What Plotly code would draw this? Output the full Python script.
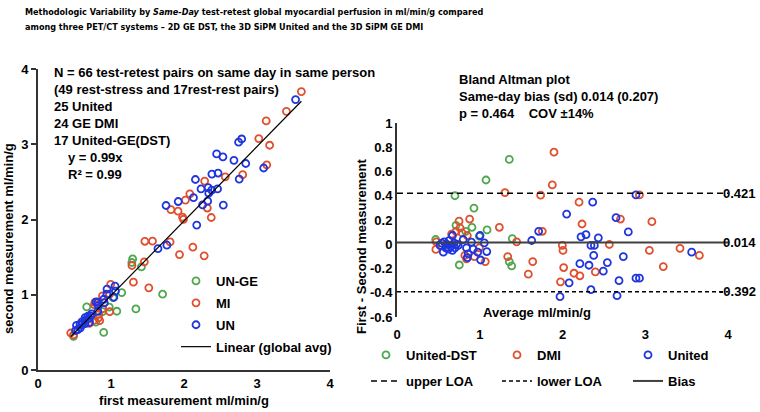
import plotly.graph_objects as go

# ---- data (average, first - second) ----
green_avg = [0.467, 0.70, 0.713, 0.753, 0.83, 0.906, 0.93, 0.995, 1.076, 1.088, 1.357, 1.357, 1.386, 1.393]
green_diff = [0.039, 0.40, 0.156, -0.171, 0.107, 0.14, 0.298, 0.066, 0.53, 0.118, 0.70, -0.143, -0.179, 0.047]

red_avg = [0.47, 0.475, 0.66, 0.713, 0.75, 0.761, 0.785, 0.82, 0.84, 0.85, 0.878, 0.934, 0.995, 1.067,
           1.237, 1.305, 1.338, 1.446, 1.587, 1.64, 1.736, 1.756, 1.877, 1.897, 1.976, 1.998, 2.006, 2.014,
           2.139, 2.20, 2.21, 2.236, 2.397, 2.566, 2.70, 2.93, 3.05, 3.08, 3.218, 3.42, 3.654]
red_diff = [-0.043, 0.02, 0.083, 0.107, 0.19, 0.135, 0.094, -0.092, -0.12, 0.072, 0.208, -0.102, -0.029, -0.143,
            0.14, 0.426, -0.102, 0.02, -0.247, -0.143, 0.405, 0.107, 0.489, 0.759, -0.31, -0.01, -0.051, -0.192,
            -0.239, 0.347, -0.26, 0.167, -0.228, -0.002, 0.208, 0.407, -0.051, 0.186, -0.184, -0.034, -0.092]

blue_avg = [0.52, 0.54, 0.56, 0.57, 0.59, 0.60, 0.62, 0.63, 0.65, 0.67, 0.67, 0.69, 0.70, 0.72, 0.74, 0.80,
            0.84, 0.85, 0.86, 0.90, 0.92, 0.975, 1.003, 1.011, 1.055, 1.085,
            1.628, 1.712, 1.97, 2.05, 2.08, 2.21, 2.224, 2.284, 2.32, 2.344, 2.344, 2.365, 2.377, 2.385, 2.433,
            2.493, 2.542, 2.647, 2.659, 2.683, 2.735, 2.795, 2.888, 2.888, 2.93, 3.561]
blue_diff = [-0.01, 0.01, -0.065, 0.02, -0.03, 0.0, -0.04, 0.03, -0.02, 0.072, -0.05, 0.01, -0.03, 0.0, -0.01, 0.039,
             -0.03, -0.11, -0.08, 0.017, -0.04, -0.065, 0.072, -0.13, 0.012, -0.06,
             0.031, 0.107, -0.432, 0.249, -0.318, -0.16, 0.061, 0.08, -0.173, -0.01, -0.375, 0.347, -0.092, -0.01, 0.053,
             -0.222, -0.151, 0.219, -0.424, -0.30, -0.102, 0.102, 0.407, -0.28, -0.28, -0.065]

slope = 0.99
bias = 0.014
upper_loa = 0.421
lower_loa = -0.392

left_ticks = [0, 1, 2, 3, 4]
ba_x_range = [0, 4]
ba_y_ticks = [1, 0.8, 0.6, 0.4, 0.2, 0, -0.2, -0.4, -0.6]
ba_y_labels = ["1", "0.8", "0.6", "0.4", "0.2", "0", "-0.2", "-0.4", "-0.6"]

GREEN = "#4FA84F"
RED = "#E0502F"
BLUE = "#1F35DD"
FONT = "Liberation Sans, Arial, sans-serif"
TITLE_FONT = "DejaVu Sans Condensed, Liberation Sans Narrow, sans-serif"

W, H = 760, 412


def first_second(avg, diff):
    first = [a + d / 2 for a, d in zip(avg, diff)]
    second = [a - d / 2 for a, d in zip(avg, diff)]
    return first, second


def px(x):
    return x / W


def py(y):
    return 1 - y / H


fig = go.Figure()

mk = dict(symbol="circle-open", size=7, line=dict(width=1.8))

# left scatter
series = [("UN-GE", "United-DST", GREEN, green_avg, green_diff),
          ("MI", "DMI", RED, red_avg, red_diff),
          ("UN", "United", BLUE, blue_avg, blue_diff)]
all_first = []
for i, (lname, rname, col, avg, diff) in enumerate(series):
    f, s = first_second(avg, diff)
    all_first += f
    fig.add_trace(go.Scatter(x=f, y=s, mode="markers", name=lname, xaxis="x", yaxis="y",
                             legend="legend", legendgroup="L%d" % i, marker=dict(color=col, **mk)))
lx = [min(all_first), max(all_first)]
fig.add_trace(go.Scatter(x=lx, y=[slope * v for v in lx], mode="lines", name="Linear (global avg)",
                         xaxis="x", yaxis="y", legend="legend", legendgroup="L9",
                         line=dict(color="black", width=1.2)))

# right Bland-Altman
for lname, rname, col, avg, diff in series:
    fig.add_trace(go.Scatter(x=avg, y=diff, mode="markers", name=rname, xaxis="x2", yaxis="y2",
                             legend="legend2", marker=dict(color=col, **mk)))
fig.add_trace(go.Scatter(x=ba_x_range, y=[upper_loa] * 2, mode="lines", name="upper LOA", xaxis="x2", yaxis="y2",
                         legend="legend3", line=dict(color="black", width=1.5, dash="6px,4px")))
fig.add_trace(go.Scatter(x=ba_x_range, y=[lower_loa] * 2, mode="lines", name="lower LOA", xaxis="x2", yaxis="y2",
                         legend="legend3", line=dict(color="black", width=1.5, dash="4px,3px")))
fig.add_trace(go.Scatter(x=ba_x_range, y=[bias] * 2, mode="lines", name="Bias", xaxis="x2", yaxis="y2",
                         legend="legend3", line=dict(color="#404040", width=2)))

bold = dict(family=FONT, size=13, color="black", weight="bold")
tfont = dict(family=TITLE_FONT, size=9, color="black", weight="bold")

annotations = [
    dict(text="Methodologic Variability by <i>Same-Day</i> test-retest global myocardial perfusion in ml/min/g compared",
         x=px(23), y=py(12), xref="paper", yref="paper", xanchor="left", yanchor="middle", showarrow=False,
         font=tfont),
    dict(text="among three PET/CT systems – 2D GE DST, the 3D SiPM United and the 3D SiPM GE DMI",
         x=px(23), y=py(27), xref="paper", yref="paper", xanchor="left", yanchor="middle", showarrow=False,
         font=tfont),
    dict(text="N = 66 test-retest pairs on same day in same person<br>(49 rest-stress and 17rest-rest pairs)"
              "<br>25 United<br>24 GE DMI<br>17 United-GE(DST)",
         x=px(52), y=py(63), xref="paper", yref="paper", xanchor="left", yanchor="top", align="left",
         showarrow=False, font=bold),
    dict(text="y = 0.99x<br>R² = 0.99", x=px(66), y=py(148), xref="paper", yref="paper",
         xanchor="left", yanchor="top", align="left", showarrow=False, font=bold),
    dict(text="Bland Altman plot<br>Same-day bias (sd) 0.014 (0.207)<br>p = 0.464    COV ±14%",
         x=px(457), y=py(70), xref="paper", yref="paper", xanchor="left", yanchor="top", align="left",
         showarrow=False, font=bold),
    dict(text="0.421", x=px(758), y=upper_loa, xref="paper", yref="y2", xanchor="right", yanchor="middle",
         showarrow=False, font=bold),
    dict(text="0.014", x=px(758), y=bias, xref="paper", yref="y2", xanchor="right", yanchor="middle",
         showarrow=False, font=bold),
    dict(text="-0.392", x=px(758), y=lower_loa, xref="paper", yref="y2", xanchor="right", yanchor="middle",
         showarrow=False, font=bold),
    dict(text="Average ml/min/g", x=px(537), y=py(312), xref="paper", yref="paper", xanchor="center",
         yanchor="middle", showarrow=False, font=bold),
    dict(text="First - Second measurement", x=px(362), y=py(247), xref="paper", yref="paper",
         xanchor="center", yanchor="middle", textangle=-90, showarrow=False, font=bold),
    dict(text="second measurement ml/min/g", x=px(9), y=py(239), xref="paper", yref="paper",
         xanchor="center", yanchor="middle", textangle=-90, showarrow=False, font=bold),
]

fig.update_layout(
    width=W, height=H,
    margin=dict(l=0, r=0, t=0, b=0, autoexpand=False),
    paper_bgcolor="white", plot_bgcolor="white",
    xaxis=dict(domain=[px(38), px(330)], range=[0, 4], tickvals=left_ticks, anchor="y", automargin=False,
               showline=True, linecolor="#333", linewidth=2, ticks="", showgrid=False, zeroline=False,
               tickfont=bold, title=dict(text="first measurement ml/min/g", font=bold, standoff=6)),
    yaxis=dict(domain=[py(370), py(69)], range=[0, 4], tickvals=left_ticks, anchor="x", automargin=False,
               showline=True, linecolor="#333", linewidth=2, ticks="outside", ticklen=5, tickwidth=2,
               tickcolor="#333", showgrid=False, zeroline=False, tickfont=bold),
    xaxis2=dict(domain=[px(397), px(728)], range=ba_x_range, tickvals=left_ticks, anchor="y2", automargin=False,
                showline=False, ticks="", showgrid=False, zeroline=False, tickfont=bold, ticklabelstandoff=8),
    yaxis2=dict(domain=[py(317), py(123)], range=[-0.6, 1], tickvals=ba_y_ticks, ticktext=ba_y_labels,
                anchor="x2", automargin=False, showline=True, linecolor="#333", linewidth=2, ticks="",
                showgrid=False, zeroline=False, tickfont=bold),
    legend=dict(x=px(176), y=py(266), xanchor="left", yanchor="top", orientation="v",
                font=bold, bgcolor="rgba(0,0,0,0)", itemwidth=30, tracegroupgap=2),
    legend2=dict(x=px(366), y=py(355), xanchor="left", yanchor="middle", orientation="h",
                 font=bold, bgcolor="rgba(0,0,0,0)", entrywidth=86, entrywidthmode="pixels"),
    legend3=dict(x=px(366), y=py(381), xanchor="left", yanchor="middle", orientation="h",
                 font=bold, bgcolor="rgba(0,0,0,0)", entrywidth=86, entrywidthmode="pixels"),
    annotations=annotations,
    showlegend=True,
)

# remove the browser's default 8px page margin so the 760x412 figure fills the window exactly
fig.write_html("out.html", config={"displayModeBar": False},
               post_script="document.body.style.margin='0px';document.body.style.overflow='hidden';")
